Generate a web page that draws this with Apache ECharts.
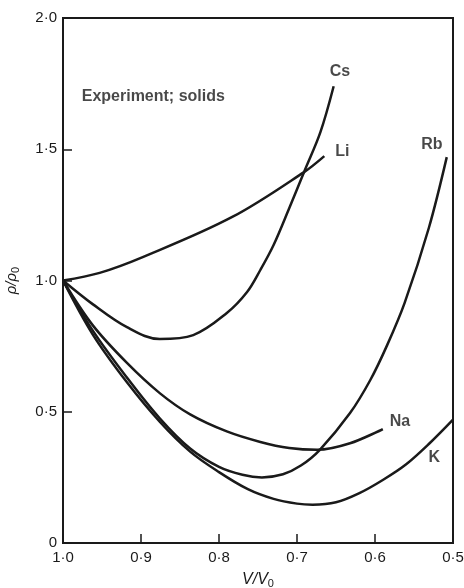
<!DOCTYPE html>
<html>
<head>
<meta charset="utf-8">
<script src="https://cdn.jsdelivr.net/npm/echarts@6/dist/echarts.min.js"></script>
<style>
  html, body { margin: 0; padding: 0; background: #fff; }
  #chart { width: 464px; height: 588px; }
</style>
</head>
<body>
<div id="chart"></div>
<script>
// curve data, [V/V0, rho/rho0]
const cs = [[1.0, 1.0], [0.962, 0.91], [0.918, 0.822], [0.876, 0.777], [0.833, 0.792], [0.79, 0.876],
  [0.764, 0.956], [0.747, 1.04], [0.73, 1.135], [0.71, 1.275], [0.69, 1.42], [0.67, 1.565], [0.653, 1.74]];
const li = [[1.0, 1.0], [0.953, 1.029], [0.897, 1.09], [0.783, 1.242], [0.691, 1.413], [0.665, 1.474]];
const rb = [[1.0, 1.0], [0.962, 0.81], [0.918, 0.63], [0.876, 0.475], [0.837, 0.36], [0.8, 0.29],
  [0.77, 0.26], [0.745, 0.25], [0.718, 0.262], [0.695, 0.295], [0.671, 0.354], [0.632, 0.495],
  [0.606, 0.621], [0.585, 0.75], [0.562, 0.915], [0.531, 1.2], [0.508, 1.47]];
const na = [[1.0, 1.0], [0.962, 0.83], [0.918, 0.686], [0.876, 0.571], [0.837, 0.49], [0.79, 0.425],
  [0.747, 0.385], [0.71, 0.362], [0.674, 0.355], [0.632, 0.38], [0.59, 0.434]];
const k = [[1.0, 1.0], [0.962, 0.795], [0.918, 0.612], [0.876, 0.462], [0.837, 0.348], [0.8, 0.27],
  [0.763, 0.205], [0.73, 0.168], [0.7, 0.15], [0.68, 0.146], [0.65, 0.155], [0.62, 0.19], [0.59, 0.24],
  [0.56, 0.30], [0.53, 0.38], [0.5, 0.47]];

// text labels placed in data coordinates
const labelNames = ["Cs", "Li", "Rb", "Na", "K"];
const labelPos = [[0.645, 1.794], [0.642, 1.49], [0.527, 1.516], [0.568, 0.461], [0.524, 0.324]];
const noteText = "Experiment; solids";
const notePos = [0.976, 1.70];

const xTicks = { min: 0.5, max: 1.0, interval: 0.1 };
const yTicks = { min: 0, max: 2, interval: 0.5 };

const ink = "#1a1a1a";
const font = "Liberation Sans";

function dot(v) {
  // 1.5 -> 1·5, 0 -> 0
  if (v === 0) return "0";
  return v.toFixed(1).replace(".", "\u00b7");
}

function curve(name, data) {
  return {
    name: name,
    type: "line",
    data: data,
    smooth: 0.35,
    symbol: "none",
    lineStyle: { color: ink, width: 2.5 },
    silent: true,
  };
}

const chart = echarts.init(document.getElementById("chart"));
chart.setOption({
  backgroundColor: "#fff",
  animation: false,
  grid: {
    left: 63, right: 11, top: 18, bottom: 45,
    containLabel: false, outerBoundsMode: "none",
    show: true, borderColor: ink, borderWidth: 2, backgroundColor: "transparent",
  },
  xAxis: {
    type: "value",
    inverse: true,
    min: xTicks.min, max: xTicks.max, interval: xTicks.interval,
    axisLine: { lineStyle: { color: ink, width: 2 } },
    axisTick: { inside: true, length: 9, lineStyle: { color: ink, width: 1.5 } },
    splitLine: { show: false },
    axisLabel: {
      color: ink, fontFamily: font, fontSize: 15, margin: 7,
      formatter: (v) => dot(v),
    },
    name: "{a|V/V}{s|0}",
    nameLocation: "middle",
    nameGap: 27,
    nameTextStyle: {
      rich: {
        a: { fontFamily: font, fontStyle: "italic", fontSize: 16, color: ink },
        s: { fontFamily: font, fontSize: 11, color: ink, verticalAlign: "bottom", padding: [8, 0, 0, 0] },
      },
    },
  },
  yAxis: {
    type: "value",
    min: yTicks.min, max: yTicks.max, interval: yTicks.interval,
    axisLine: { show: true, lineStyle: { color: ink, width: 2 } },
    axisTick: { show: true, inside: true, length: 9, lineStyle: { color: ink, width: 1.5 } },
    splitLine: { show: false },
    axisLabel: {
      color: ink, fontFamily: font, fontSize: 15, margin: 6,
      formatter: (v) => dot(v),
    },
    name: "{a|\u03c1/\u03c1}{s|0}",
    nameLocation: "middle",
    nameGap: 42,
    nameRotate: 90,
    nameTextStyle: {
      rich: {
        a: { fontFamily: font, fontStyle: "italic", fontSize: 15, color: ink },
        s: { fontFamily: font, fontSize: 11, color: ink, verticalAlign: "bottom", padding: [8, 0, 0, 0] },
      },
    },
  },
  series: [
    curve("Cs", cs),
    curve("Li", li),
    curve("Rb", rb),
    curve("Na", na),
    curve("K", k),
    {
      type: "scatter",
      symbolSize: 0,
      silent: true,
      data: labelPos.map((p, i) => ({ value: p, name: labelNames[i] })),
      label: {
        show: true, position: "inside", formatter: "{b}",
        color: ink, fontFamily: font, fontSize: 16, fontWeight: "bold",
      },
    },
    {
      type: "scatter",
      symbolSize: 0,
      silent: true,
      data: [{ value: notePos, name: noteText }],
      label: {
        show: true, position: "right", distance: 0, formatter: "{b}",
        color: ink, fontFamily: font, fontSize: 16, fontWeight: "bold",
      },
    },
  ],
});
</script>
</body>
</html>
